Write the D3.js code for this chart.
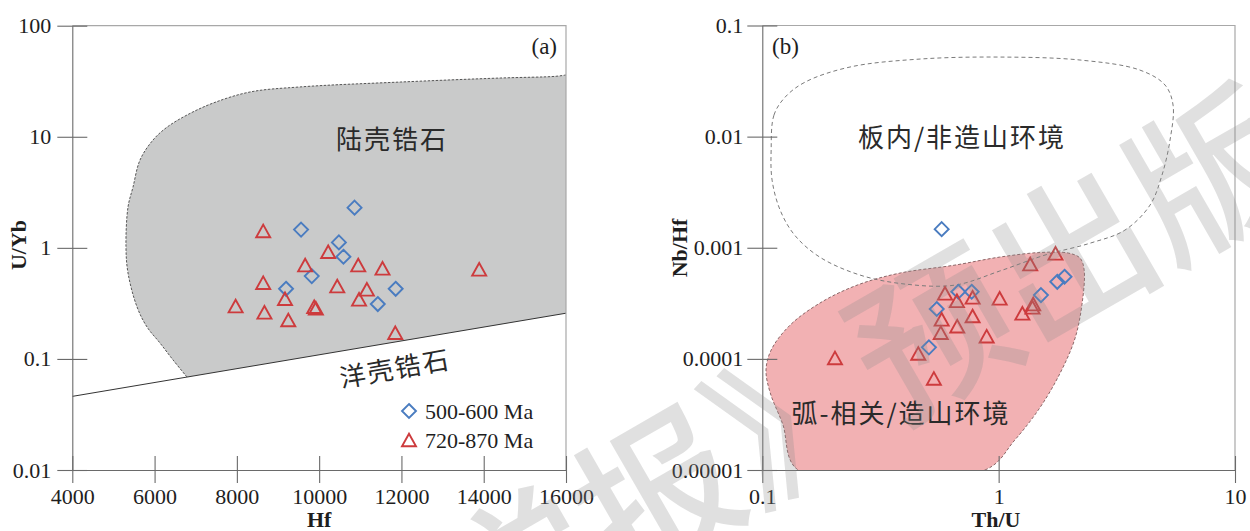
<!DOCTYPE html>
<html>
<head>
<meta charset="utf-8">
<script src="https://cdn.jsdelivr.net/npm/d3@7"></script>
<style>
  body { margin: 0; background: #fff; }
  svg { display: block; }
</style>
</head>
<body>
<svg id="chart" width="1250" height="531"></svg>
<script>
// ---------- Panel (a): Hf vs U/Yb ----------
const hfTicks = [4000, 6000, 8000, 10000, 12000, 14000, 16000];
const hfTickLabels = ["4000", "6000", "8000", "10000", "12000", "14000", "16000"];
const uybTicks = [100, 10, 1, 0.1, 0.01];
const uybTickLabels = ["100", "10", "1", "0.1", "0.01"];

// 500-600 Ma zircons
const a500Hf  = [10860, 9560, 10480, 10590, 9820, 9195, 11860, 11425];
const a500UYb = [2.30, 1.46, 1.12, 0.832, 0.557, 0.428, 0.428, 0.312];
// 720-870 Ma zircons
const a720Hf  = [8640, 10220, 9660, 10950, 11540, 13890, 8640, 10440, 11160, 9170, 10970, 7970, 8670, 9880, 9920, 9250, 11850];
const a720UYb = [1.42, 0.923, 0.700, 0.700, 0.654, 0.641, 0.486, 0.453, 0.423, 0.348, 0.344, 0.299, 0.263, 0.295, 0.286, 0.224, 0.172];

// Continental zircon field (curved boundary, ends on the oceanic divide)
const contHf  = [16000, 15740, 14400, 11970, 9535, 8320, 7420, 6788, 6302, 5962, 5646, 5476, 5354, 5305, 5354, 5573, 5816, 6132, 6448, 6788];
const contUYb = [36, 35, 33.8, 31.1, 28.1, 25.3, 20.1, 15.7, 12.2, 9.35, 6.18, 3.53, 2.33, 1.02, 0.594, 0.294, 0.194, 0.139, 0.098, 0.0687];
// Continental / oceanic divide line
const divideHf  = [4000, 16000];
const divideUYb = [0.046, 0.258];

// ---------- Panel (b): Th/U vs Nb/Hf ----------
const thuTicks = [0.1, 1, 10];
const thuTickLabels = ["0.1", "1", "10"];
const nbhfTicks = [0.1, 0.01, 0.001, 0.0001, 0.00001];
const nbhfTickLabels = ["0.1", "0.01", "0.001", "0.0001", "0.00001"];

const b500ThU  = [0.574, 0.675, 0.769, 0.547, 1.51, 1.77, 1.90, 0.507];
const b500NbHf = [0.00147, 0.000402, 0.000402, 0.000281, 0.000375, 0.000494, 0.000548, 0.000127];
const b720ThU  = [1.74, 1.36, 0.593, 0.666, 0.776, 1.01, 1.40, 1.39, 1.26, 0.776, 0.574, 0.668, 0.569, 0.890, 0.457, 0.532, 0.203];
const b720NbHf = [0.000891, 0.000713, 0.000389, 0.000333, 0.000358, 0.000351, 0.000311, 0.000291, 0.000257, 0.000243, 0.000227, 0.000197, 0.000172, 0.000160, 0.000112, 0.0000667, 0.000102];

// Intraplate / non-orogenic field
const intraThU  = [0.109, 0.112, 0.125, 0.152, 0.235, 0.465, 1.01, 2.21, 3.96, 5.06, 5.47, 5.31, 4.91, 4.37, 3.42, 2.44, 1.57, 1.01, 0.653, 0.402, 0.259, 0.175, 0.137, 0.119, 0.110];
const intraNbHf = [0.00757, 0.0156, 0.0227, 0.0310, 0.0423, 0.0499, 0.0520, 0.0489, 0.0397, 0.0291, 0.0192, 0.00931, 0.00451, 0.00242, 0.00144, 0.00110, 0.000859, 0.000617, 0.000461, 0.000471, 0.000568, 0.000824, 0.00130, 0.00218, 0.00406];
// Arc-related / orogenic field
const arcThU  = [0.1416, 0.875, 1.17, 1.50, 1.82, 2.10, 2.25, 2.30, 2.21, 1.97, 1.50, 1.01, 0.653, 0.383, 0.259, 0.181, 0.131, 0.109, 0.1037, 0.1078, 0.122];
const arcNbHf = [0.00001, 0.00001, 0.0000186, 0.0000368, 0.0000745, 0.000151, 0.000305, 0.000630, 0.000807, 0.000896, 0.000906, 0.000824, 0.000698, 0.000592, 0.000471, 0.000331, 0.000201, 0.000120, 0.0000793, 0.0000502, 0.0000259];

const seriesNames = ["500-600 Ma", "720-870 Ma"];
const BLUE = "#4a7cc0", RED = "#cd3b3d";

// ---------- Setup ----------
const svg = d3.select("#chart");
const SERIF = "Liberation Serif, Times New Roman, serif";
const CJK = "Noto Sans CJK SC, sans-serif";

const PA = { left: 72.3, right: 566, top: 25.7, bottom: 470 };
const PB = { left: 762.3, right: 1235, top: 25.5, bottom: 470 };

const xA = d3.scaleLinear().domain([4000, 16000]).range([PA.left, PA.right]);
const yA = d3.scaleLog().domain([0.01, 100]).range([PA.bottom, PA.top]);
const xB = d3.scaleLog().domain([0.1, 10]).range([PB.left, PB.right]);
const yB = d3.scaleLog().domain([0.00001, 0.1]).range([PB.bottom, PB.top]);

// Marker shapes, centred on their bounding box
const diamondType = { draw(ctx, size) { const r = Math.sqrt(size) / 2;
  ctx.moveTo(0, -r); ctx.lineTo(r, 0); ctx.lineTo(0, r); ctx.lineTo(-r, 0); ctx.closePath(); } };
const triangleType = { draw(ctx, size) { const w = Math.sqrt(size), h = w * 0.9;
  ctx.moveTo(0, -h / 2); ctx.lineTo(w / 2, h / 2); ctx.lineTo(-w / 2, h / 2); ctx.closePath(); } };
const diamondPath = d3.symbol().type(diamondType).size(14 * 14)();
const trianglePath = d3.symbol().type(triangleType).size(14 * 14)();

const defs = svg.append("defs");
function clip(id, P) {
  defs.append("clipPath").attr("id", id).append("rect")
    .attr("x", P.left).attr("y", P.top).attr("width", P.right - P.left).attr("height", P.bottom - P.top);
}
clip("clipA", PA); clip("clipB", PB);

function drawFrame(P) {
  svg.append("path")
    .attr("d", `M${P.left},${P.top}H${P.right}V${P.bottom}`)
    .attr("fill", "none").attr("stroke", "#a8a8a8").attr("stroke-width", 1.2);
}

function drawAxes(P, xs, ys, xt, xl, yt, yl, yPad) {
  const gx = svg.append("g").attr("transform", `translate(0,${P.bottom})`)
    .call(d3.axisBottom(xs).tickValues(xt).tickFormat((d, i) => xl[i]).tickSizeInner(13).tickSizeOuter(0).tickPadding(5));
  gx.selectAll(".tick line").attr("y1", -14);
  const gy = svg.append("g").attr("transform", `translate(${P.left},0)`)
    .call(d3.axisLeft(ys).tickValues(yt).tickFormat((d, i) => yl[i]).tickSizeInner(15).tickSizeOuter(0).tickPadding(yPad));
  gy.selectAll(".tick line").attr("x1", 15);
  [gx, gy].forEach(g => {
    g.attr("font-family", null).attr("font-size", null);
    g.select(".domain").attr("stroke", "#6a6a6a").attr("stroke-width", 1.1);
    g.selectAll(".tick line").attr("stroke", "#6a6a6a").attr("stroke-width", 1.1);
    g.selectAll(".tick text").style("font-family", SERIF).style("font-size", "22px").attr("fill", "#1e1e1e");
  });
}

function drawPoints(xs, ys, xv, yv, path, color) {
  svg.append("g").selectAll("path").data(d3.zip(xv, yv)).join("path")
    .attr("d", path)
    .attr("transform", d => `translate(${xs(d[0])},${ys(d[1])})`)
    .attr("fill", "none").attr("stroke", color).attr("stroke-width", 1.9);
}

function serifText(sel, size, bold) {
  return sel.style("font-family", SERIF).style("font-size", size + "px")
    .style("font-weight", bold ? "bold" : "normal").attr("fill", "#1e1e1e");
}
function cjkText(sel) {
  return sel.style("font-family", CJK).style("font-size", "26px")
    .attr("letter-spacing", 2).attr("fill", "#2a2a2a");
}

// ---------- Panel (a) ----------
const gA = svg.append("g").attr("clip-path", "url(#clipA)");
const curveLine = d3.line().x(d => xA(d[0])).y(d => yA(d[1])).curve(d3.curveCatmullRom.alpha(0.5));
const contCurve = curveLine(d3.zip(contHf, contUYb));
gA.append("path")
  .attr("d", contCurve + `L${xA(divideHf[1])},${yA(divideUYb[1])}Z`)
  .attr("fill", "#c9caca");
gA.append("path")
  .attr("d", contCurve)
  .attr("fill", "none").attr("stroke", "#555").attr("stroke-width", 1).attr("stroke-dasharray", "2.5,1.5");
gA.append("path")
  .attr("d", d3.line().x(d => xA(d[0])).y(d => yA(d[1]))(d3.zip(divideHf, divideUYb)))
  .attr("fill", "none").attr("stroke", "#333").attr("stroke-width", 1);

drawFrame(PA);
drawAxes(PA, xA, yA, hfTicks, hfTickLabels, uybTicks, uybTickLabels, 6);

cjkText(svg.append("text").attr("x", 392).attr("y", 140).attr("dy", "0.35em")
  .attr("text-anchor", "middle")).text("陆壳锆石");
cjkText(svg.append("text").attr("transform", "translate(395,369) rotate(-10)").attr("dy", "0.35em")
  .attr("text-anchor", "middle")).text("洋壳锆石");

drawPoints(xA, yA, a500Hf, a500UYb, diamondPath, BLUE);
drawPoints(xA, yA, a720Hf, a720UYb, trianglePath, RED);

serifText(svg.append("text").attr("x", 557).attr("y", 46).attr("dy", "0.35em").attr("text-anchor", "end"), 23)
  .text("(a)");

// legend
const legend = svg.append("g").attr("transform", "translate(409,411)");
[[diamondPath, BLUE], [trianglePath, RED]].forEach((s, i) => {
  legend.append("path").attr("d", s[0]).attr("transform", `translate(0,${i * 29})`)
    .attr("fill", "none").attr("stroke", s[1]).attr("stroke-width", 1.9);
  serifText(legend.append("text").attr("x", 16).attr("y", i * 29).attr("dy", "0.35em"), 22)
    .text(seriesNames[i]);
});

serifText(svg.append("text").attr("x", (PA.left + PA.right) / 2).attr("y", 527).attr("text-anchor", "middle"), 22, true)
  .text("Hf");
serifText(svg.append("text").attr("transform", "translate(18,245) rotate(-90)").attr("dy", "0.35em")
  .attr("text-anchor", "middle"), 22, true).text("U/Yb");

// ---------- Panel (b) ----------
const gB = svg.append("g").attr("clip-path", "url(#clipB)");
const closedB = d3.line().x(d => xB(d[0])).y(d => yB(d[1])).curve(d3.curveCatmullRomClosed.alpha(0.5));
const arcPath = closedB(d3.zip(arcThU, arcNbHf));
gB.append("path").attr("d", arcPath).attr("fill", "#f2b1b3");
gB.append("path").attr("d", closedB(d3.zip(intraThU, intraNbHf)))
  .attr("fill", "none").attr("stroke", "#7a7a7a").attr("stroke-width", 1).attr("stroke-dasharray", "4,3");
gB.append("path").attr("d", arcPath)
  .attr("fill", "none").attr("stroke", "#8a6667").attr("stroke-width", 1).attr("stroke-dasharray", "3,2");

drawFrame(PB);
drawAxes(PB, xB, yB, thuTicks, thuTickLabels, nbhfTicks, nbhfTickLabels, 4);

cjkText(svg.append("text").attr("x", 962).attr("y", 138).attr("dy", "0.35em")
  .attr("text-anchor", "middle")).text("板内/非造山环境");
cjkText(svg.append("text").attr("x", 901).attr("y", 414).attr("dy", "0.35em")
  .attr("text-anchor", "middle")).text("弧-相关/造山环境");

drawPoints(xB, yB, b500ThU, b500NbHf, diamondPath, BLUE);
drawPoints(xB, yB, b720ThU, b720NbHf, trianglePath, RED);

serifText(svg.append("text").attr("x", 772).attr("y", 46).attr("dy", "0.35em"), 23).text("(b)");

serifText(svg.append("text").attr("x", 996).attr("y", 527).attr("text-anchor", "middle"), 22, true).text("Th/U");
serifText(svg.append("text").attr("transform", "translate(679,248) rotate(-90)").attr("dy", "0.35em")
  .attr("text-anchor", "middle"), 22, true).text("Nb/Hf");

// ---------- Publisher watermark ----------
svg.append("text")
  .attr("transform", "translate(866,378) rotate(-30)")
  .attr("dy", "0.35em").attr("text-anchor", "middle")
  .style("font-family", CJK).style("font-size", "160px").style("font-weight", "500")
  .attr("fill", "rgba(140,140,140,0.27)")
  .text("学报》预出版");
</script>
</body>
</html>
